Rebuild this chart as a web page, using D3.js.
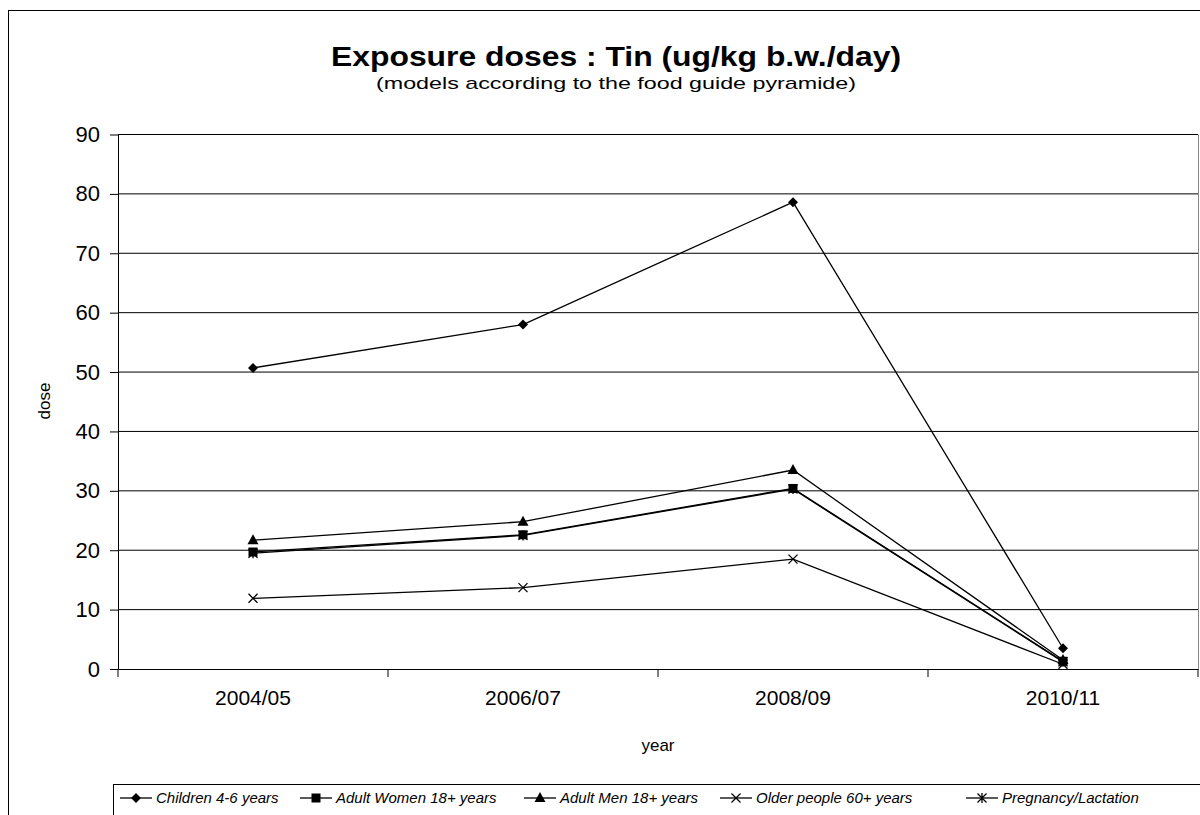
<!DOCTYPE html>
<html><head><meta charset="utf-8">
<script src="https://cdn.jsdelivr.net/npm/d3@7"></script>
<style>body{margin:0;background:#fff;}svg{display:block;font-family:"Liberation Sans",Arial,sans-serif;}</style>
</head><body><svg id="c" width="1200" height="815"></svg>
<script>
const categories = ["2004/05","2006/07","2008/09","2010/11"];
const children = [50.7, 58.0, 78.6, 3.5];
const adultWomen = [19.7, 22.6, 30.4, 1.3];
const adultMen = [21.7, 24.8, 33.5, 1.5];
const olderPeople = [11.9, 13.7, 18.5, 0.8];
const pregnancy = [19.5, 22.5, 30.3, 1.2];
const yTicks = [0,10,20,30,40,50,60,70,80,90];
const seriesNames = ["Children 4-6 years","Adult Women 18+ years","Adult Men 18+ years","Older people 60+ years","Pregnancy/Lactation"];
const seriesMarkers = ["diamond","square","triangle","x","star"];

const series = [children, adultWomen, adultMen, olderPeople, pregnancy].map((v,i)=>({name:seriesNames[i], marker:seriesMarkers[i], values:v}));

const svg = d3.select("#c");
svg.append("rect").attr("x",8.5).attr("y",10.5).attr("width",1200).attr("height",820).attr("fill","none").attr("stroke","#000");

const L=118, R=1198, T=134.5, B=669;
const x = d3.scaleBand().domain(categories).range([L,R]).padding(0);
const y = d3.scaleLinear().domain([0,90]).range([B,T]);

svg.append("g").selectAll("line").data(yTicks.filter(d=>d>0)).join("line")
  .attr("x1",L).attr("x2",R).attr("y1",d=>y(d)).attr("y2",d=>y(d)).attr("stroke","#000").attr("stroke-width",1);
svg.append("line").attr("x1",R+0.5).attr("x2",R+0.5).attr("y1",T).attr("y2",B).attr("stroke","#888");

const yAxis = d3.axisLeft(y).tickValues(yTicks).tickSize(8).tickPadding(10).tickSizeOuter(0);
const gy = svg.append("g").attr("transform",`translate(${L},0)`).call(yAxis);
gy.selectAll("text").attr("font-size",22).attr("fill","#000");
gy.selectAll("line,path").attr("stroke","#000");

const gx = svg.append("g").attr("transform",`translate(0,${B})`).call(d3.axisBottom(x).tickSize(0).tickPadding(21));
gx.selectAll("text").attr("font-size",21).attr("fill","#000");
gx.select("path").attr("stroke","#000");
const bounds = categories.map(c=>x(c)).concat([R]);
svg.append("g").selectAll("line").data(bounds).join("line")
  .attr("x1",d=>d).attr("x2",d=>d).attr("y1",B).attr("y2",B+8).attr("stroke","#000");

svg.append("text").attr("x",616).attr("y",66).attr("text-anchor","middle").attr("font-size",28).attr("font-weight","bold")
  .attr("textLength",570).attr("lengthAdjust","spacingAndGlyphs").text("Exposure doses : Tin (ug/kg b.w./day)");
svg.append("text").attr("x",616).attr("y",89).attr("text-anchor","middle").attr("font-size",17)
  .attr("textLength",480).attr("lengthAdjust","spacingAndGlyphs").text("(models according to the food guide pyramide)");
svg.append("text").attr("transform","translate(50,401) rotate(-90)").attr("text-anchor","middle").attr("font-size",17).text("dose");
svg.append("text").attr("x",658).attr("y",751).attr("text-anchor","middle").attr("font-size",17).text("year");

function drawMarker(g, type, cx, cy){
  if(type==="diamond"){
    g.append("path").attr("d",`M${cx},${cy-5}L${cx+5},${cy}L${cx},${cy+5}L${cx-5},${cy}Z`).attr("fill","#000");
  } else if(type==="square"){
    g.append("rect").attr("x",cx-4.5).attr("y",cy-4.5).attr("width",9).attr("height",9).attr("fill","#000");
  } else if(type==="triangle"){
    g.append("path").attr("d",`M${cx},${cy-6}L${cx+5.5},${cy+4}L${cx-5.5},${cy+4}Z`).attr("fill","#000");
  } else if(type==="x"){
    g.append("path").attr("d",`M${cx-4.5},${cy-4.5}L${cx+4.5},${cy+4.5}M${cx-4.5},${cy+4.5}L${cx+4.5},${cy-4.5}`).attr("stroke","#000").attr("stroke-width",1.3);
  } else if(type==="star"){
    g.append("path").attr("d",`M${cx-4.5},${cy-4.5}L${cx+4.5},${cy+4.5}M${cx-4.5},${cy+4.5}L${cx+4.5},${cy-4.5}M${cx},${cy-5}L${cx},${cy+5}`).attr("stroke","#000").attr("stroke-width",1.3);
  }
}

const line = d3.line().x((d,i)=>x(categories[i])+x.bandwidth()/2).y(d=>y(d));
const gs = svg.append("g");
series.forEach(s=>{
  gs.append("path").attr("d",line(s.values)).attr("fill","none").attr("stroke","#000").attr("stroke-width",1.3);
  s.values.forEach((v,i)=>drawMarker(gs, s.marker, x(categories[i])+x.bandwidth()/2, y(v)));
});

const lg = svg.append("g");
lg.append("rect").attr("x",113.5).attr("y",784.5).attr("width",1100).attr("height",60).attr("fill","#fff").attr("stroke","#000");
const legX = [120, 300, 524, 720, 966];
series.forEach((s,i)=>{
  const lx = legX[i], ly = 798;
  lg.append("line").attr("x1",lx).attr("x2",lx+32).attr("y1",ly).attr("y2",ly).attr("stroke","#000").attr("stroke-width",1.3);
  drawMarker(lg, s.marker, lx+16, ly);
  lg.append("text").attr("x",lx+36).attr("y",ly+5).attr("font-size",15).attr("font-style","italic").text(s.name);
});
</script></body></html>
